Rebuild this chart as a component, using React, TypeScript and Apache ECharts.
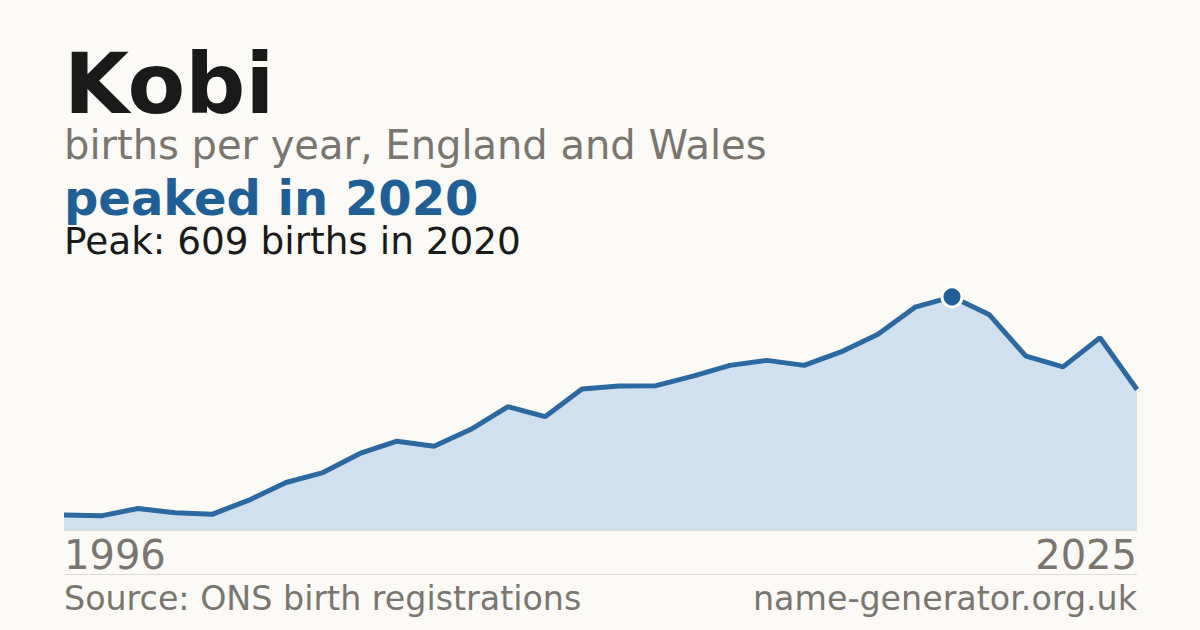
import { useEffect, useRef } from 'react';
import * as echarts from 'echarts';

const years = [
  '1996', '1997', '1998', '1999', '2000', '2001', '2002', '2003', '2004', '2005',
  '2006', '2007', '2008', '2009', '2010', '2011', '2012', '2013', '2014', '2015',
  '2016', '2017', '2018', '2019', '2020', '2021', '2022', '2023', '2024', '2025',
];
const births = [
  39, 37, 56, 45, 41, 78, 124, 150, 200, 232,
  219, 263, 322, 296, 368, 376, 377, 402, 430, 443,
  430, 465, 511, 582, 609, 563, 454, 426, 502, 367,
];
const peakYear = '2020';
const peakValue = 609;

const FONT = '"DejaVu Sans", Verdana, sans-serif';
const BLUE = '#1f5f96';
const GREY = '#7a766f';
const INK = '#1a1a1a';

export default function App() {
  const chartRef = useRef<HTMLDivElement | null>(null);

  useEffect(() => {
    if (!chartRef.current) {
      return;
    }
    const chart = echarts.init(chartRef.current, undefined, { renderer: 'svg' });
    const peakIndex = years.indexOf(peakYear);
    chart.setOption({
      animation: false,
      backgroundColor: '#fbfaf6',
      grid: { left: 64, right: 63, top: 262, bottom: 100 },
      xAxis: {
        type: 'category',
        data: years,
        boundaryGap: false,
        axisTick: { show: false },
        axisLine: { show: true, lineStyle: { color: '#dedcd6', width: 1 } },
        axisLabel: {
          interval: (idx: number) => idx === 0 || idx === years.length - 1,
          showMinLabel: true,
          showMaxLabel: true,
          alignMinLabel: 'left',
          alignMaxLabel: 'right',
          verticalAlign: 'middle',
          margin: 25,
          color: GREY,
          fontFamily: FONT,
          fontSize: 40,
        },
      },
      yAxis: { type: 'value', min: 0, max: 700, show: false, splitLine: { show: false } },
      series: [
        {
          type: 'line',
          data: births,
          symbol: 'none',
          lineStyle: { color: '#2c69a0', width: 5 },
          areaStyle: { color: '#d0e0ef', opacity: 1 },
          z: 2,
        },
        {
          type: 'scatter',
          data: [[peakIndex, peakValue]],
          symbol: 'circle',
          symbolSize: 20,
          itemStyle: { color: BLUE, borderColor: '#ffffff', borderWidth: 3, opacity: 1 },
          emphasis: { disabled: true },
          z: 5,
        },
      ],
      graphic: [
        {
          type: 'text', x: 64, y: 84,
          style: { text: 'Kobi', fill: INK, font: `bold 84px ${FONT}`, lineHeight: 76, verticalAlign: 'middle' },
        },
        {
          type: 'text', x: 64, y: 145,
          style: { text: 'births per year, England and Wales', fill: GREY, font: `40px ${FONT}`, lineHeight: 38, verticalAlign: 'middle' },
        },
        {
          type: 'text', x: 64, y: 198,
          style: { text: 'peaked in 2020', fill: BLUE, font: `bold 48px ${FONT}`, lineHeight: 42, verticalAlign: 'middle' },
        },
        {
          type: 'text', x: 64, y: 241,
          style: { text: 'Peak: 609 births in 2020', fill: INK, font: `37.4px ${FONT}`, lineHeight: 34, verticalAlign: 'middle' },
        },
        {
          type: 'line',
          shape: { x1: 64, y1: 574.5, x2: 1137, y2: 574.5 },
          style: { stroke: '#dedcd6', lineWidth: 1 },
        },
        {
          type: 'text', x: 64, y: 598,
          style: { text: 'Source: ONS birth registrations', fill: GREY, font: `33.3px ${FONT}`, verticalAlign: 'middle' },
        },
        {
          type: 'text', x: 1137, y: 598,
          style: { text: 'name-generator.org.uk', fill: GREY, font: `33.3px ${FONT}`, align: 'right', verticalAlign: 'middle' },
        },
      ],
    });
    return () => chart.dispose();
  }, []);

  return (
    <div
      ref={chartRef}
      style={{ position: 'absolute', left: 0, top: 0, width: 1200, height: 630 }}
    />
  );
}
